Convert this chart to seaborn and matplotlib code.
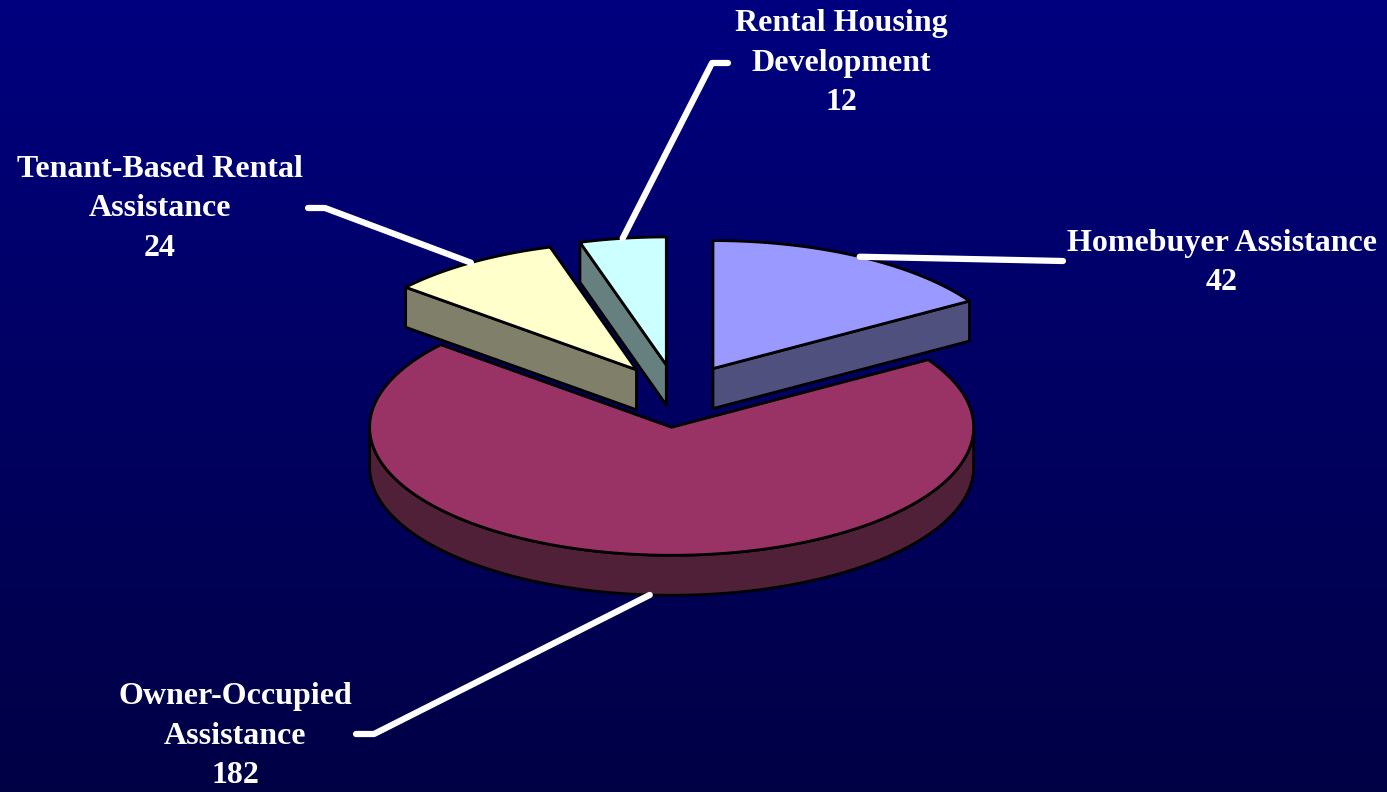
import numpy as np
import matplotlib
matplotlib.use("Agg")
import matplotlib.pyplot as plt
from matplotlib.patches import Polygon
import seaborn as sns

# ---- data ----
categories = ["Homebuyer Assistance", "Owner-Occupied\nAssistance",
              "Tenant-Based Rental\nAssistance", "Rental Housing\nDevelopment"]
values = [42, 182, 24, 12]
top_colors = ["#9999FF", "#993366", "#FFFFCC", "#CCFFFF"]
side_colors = ["#50507F", "#4F2038", "#80806A", "#668080"]

# ---- layout ----
W, H = 1387, 792
CX, CY = 677, 396          # pie centre (pixels)
RA, RB = 302, 128          # ellipse semi-axes
DEPTH = 40
EXPLODE = 0.245
# label anchor: (text centre x, text centre y, elbow point, end point)
label_layout = [
    dict(tx=1222, ty=262, elbow=(1063, 261), end=(1063, 261)),
    dict(tx=235, ty=735, elbow=(374, 734), end=(356, 734)),
    dict(tx=160, ty=208, elbow=(325, 208), end=(308, 208)),
    dict(tx=841, ty=62, elbow=(712, 63), end=(728, 63)),
]

sns.set_theme(style="white")
plt.rcParams["font.family"] = ["Liberation Serif", "DejaVu Serif"]

fig = plt.figure(figsize=(W / 100, H / 100), dpi=100)
ax = fig.add_axes([0, 0, 1, 1])
ax.set_xlim(0, W)
ax.set_ylim(H, 0)
ax.axis("off")

# background gradient
grad = np.linspace(0, 1, 256).reshape(-1, 1)
top_c = np.array([0, 0, 0.50])
bot_c = np.array([0, 0, 0.27])
img = top_c[None, None, :] * (1 - grad[:, :, None]) + bot_c[None, None, :] * grad[:, :, None]
ax.imshow(img, extent=[0, W, H, 0], aspect="auto", zorder=0)

total = float(sum(values))
fracs = [v / total for v in values]
starts = np.cumsum([0] + fracs[:-1]) * 360.0
ends = starts + np.array(fracs) * 360.0


def pt(theta_deg, r, ox, oy, dz=0.0):
    t = np.radians(theta_deg)
    return (CX + ox + r * RA * np.sin(t), CY + oy - r * RB * np.cos(t) + dz)


wedges = []
for i, v in enumerate(values):
    t1, t2 = starts[i], ends[i]
    mid = 0.5 * (t1 + t2)
    ox = EXPLODE * RA * np.sin(np.radians(mid))
    oy = -EXPLODE * RB * np.cos(np.radians(mid))
    wedges.append(dict(i=i, t1=t1, t2=t2, mid=mid, ox=ox, oy=oy))

# painter's order: back to front
order = sorted(wedges, key=lambda w: -np.cos(np.radians(w["mid"])))
ek = dict(edgecolor="black", linewidth=2.0, joinstyle="round")
z = 2
for w in order:
    i, t1, t2, ox, oy = w["i"], w["t1"], w["t2"], w["ox"], w["oy"]
    apex = (CX + ox, CY + oy)
    apex_b = (CX + ox, CY + oy + DEPTH)
    # radial face at start angle
    if np.sin(np.radians(t1)) < -1e-6:
        p = pt(t1, 1, ox, oy)
        pb = pt(t1, 1, ox, oy, DEPTH)
        ax.add_patch(Polygon([apex, p, pb, apex_b], closed=True,
                             facecolor=side_colors[i], zorder=z, **ek))
    # radial face at end angle
    if np.sin(np.radians(t2)) > 1e-6:
        p = pt(t2, 1, ox, oy)
        pb = pt(t2, 1, ox, oy, DEPTH)
        ax.add_patch(Polygon([apex, p, pb, apex_b], closed=True,
                             facecolor=side_colors[i], zorder=z, **ek))
    # outer curved side (front half only)
    a1, a2 = max(t1, 90), min(t2, 270)
    if a2 > a1:
        th = np.linspace(a1, a2, 200)
        topa = [pt(t, 1, ox, oy) for t in th]
        bota = [pt(t, 1, ox, oy, DEPTH) for t in th[::-1]]
        ax.add_patch(Polygon(topa + bota, closed=True,
                             facecolor=side_colors[i], zorder=z, **ek))
    z += 1
    # top face
    th = np.linspace(t1, t2, 300)
    poly = [apex] + [pt(t, 1, ox, oy) for t in th]
    ax.add_patch(Polygon(poly, closed=True, facecolor=top_colors[i], zorder=z, **ek))
    z += 1

# leader lines and labels
for w in wedges:
    i = w["i"]
    mid = w["mid"]
    dz = DEPTH if np.cos(np.radians(mid)) < 0 else 0.0
    s = pt(mid, 1.0, w["ox"], w["oy"], dz)
    L = label_layout[i]
    xs = [s[0], L["elbow"][0], L["end"][0]]
    ys = [s[1], L["elbow"][1], L["end"][1]]
    ax.plot(xs, ys, color="white", lw=4.5, solid_capstyle="round",
            solid_joinstyle="round", zorder=50)
    ax.text(L["tx"], L["ty"] + 1, f"{categories[i]}\n{values[i]}", color="white",
            fontsize=23, fontweight="bold", ha="center", va="center",
            linespacing=1.48, zorder=60)

fig.savefig("out.png", dpi=100)
